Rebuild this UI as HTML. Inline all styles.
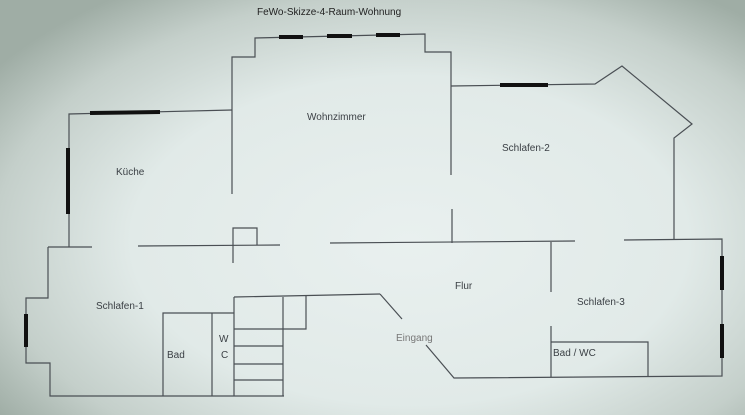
<!DOCTYPE html>
<html><head><meta charset="utf-8"><style>
html,body{margin:0;padding:0}
body{width:745px;height:415px;overflow:hidden;background:radial-gradient(ellipse 68% 72% at 55% 58%,#e9f0ef 0%,#e1eae8 55%,#c4cfca 82%,#9fada5 100%);font-family:"Liberation Sans",sans-serif}
svg{position:absolute;left:0;top:0}
text{font-family:"Liberation Sans",sans-serif;font-size:10px;fill:#3a3f44}
</style></head><body>
<svg width="745" height="415" viewBox="0 0 745 415">
<g fill="none" stroke="#4a4f54" stroke-width="1.2">
<polyline points="232,194 232,57 255,57 255,38 425,34 425,52 451,52 451,175"/>
<polyline points="69,247 69,114 232,110"/>
<polyline points="451,86 595,84 622,66 692,124 674,138 674,240"/>
<line x1="48" y1="247" x2="92" y2="247"/>
<line x1="138" y1="246" x2="280" y2="245"/>
<polyline points="233,245 233,228 257,228 257,245"/>
<line x1="233" y1="245" x2="233" y2="263"/>
<line x1="330" y1="243" x2="575" y2="241"/>
<line x1="452" y1="209" x2="452" y2="243"/>
<polyline points="624,240 722,239 722,376 454,378 426,345"/>
<line x1="380" y1="294" x2="402" y2="319"/>
<polyline points="48,247 48,298 26,298 26,363 50,363 50,396 284,396"/>
<line x1="234" y1="297" x2="380" y2="294"/>
<line x1="234" y1="297" x2="234" y2="396"/>
<line x1="283" y1="297" x2="283" y2="396"/>
<polyline points="306,296 306,329 234,329"/>
<line x1="234" y1="346" x2="283" y2="346"/>
<line x1="234" y1="364" x2="283" y2="364"/>
<line x1="234" y1="380" x2="283" y2="380"/>
<polyline points="163,396 163,313 234,313"/>
<line x1="212" y1="313" x2="212" y2="396"/>
<line x1="551" y1="242" x2="551" y2="292"/>
<line x1="551" y1="326" x2="551" y2="377"/>
<polyline points="551,342 648,342 648,376"/>
</g>
<g stroke="#111" stroke-width="4">
<line x1="279" y1="37" x2="303" y2="37"/>
<line x1="327" y1="36" x2="352" y2="36"/>
<line x1="376" y1="35" x2="400" y2="35"/>
<line x1="90" y1="113" x2="160" y2="112"/>
<line x1="68" y1="148" x2="68" y2="214"/>
<line x1="500" y1="85" x2="548" y2="85"/>
<line x1="722" y1="256" x2="722" y2="290"/>
<line x1="722" y1="324" x2="722" y2="358"/>
<line x1="26" y1="314" x2="26" y2="347"/>
</g>
<text x="257" y="15" style="fill:#222">FeWo-Skizze-4-Raum-Wohnung</text>
<text x="307" y="120">Wohnzimmer</text>
<text x="116" y="175">Küche</text>
<text x="502" y="151">Schlafen-2</text>
<text x="455" y="289">Flur</text>
<text x="96" y="309">Schlafen-1</text>
<text x="577" y="305">Schlafen-3</text>
<text x="396" y="341" style="fill:#777">Eingang</text>
<text x="167" y="358">Bad</text>
<text x="219" y="342">W</text>
<text x="221" y="358">C</text>
<text x="553" y="356">Bad / WC</text>
</svg>
</body></html>
